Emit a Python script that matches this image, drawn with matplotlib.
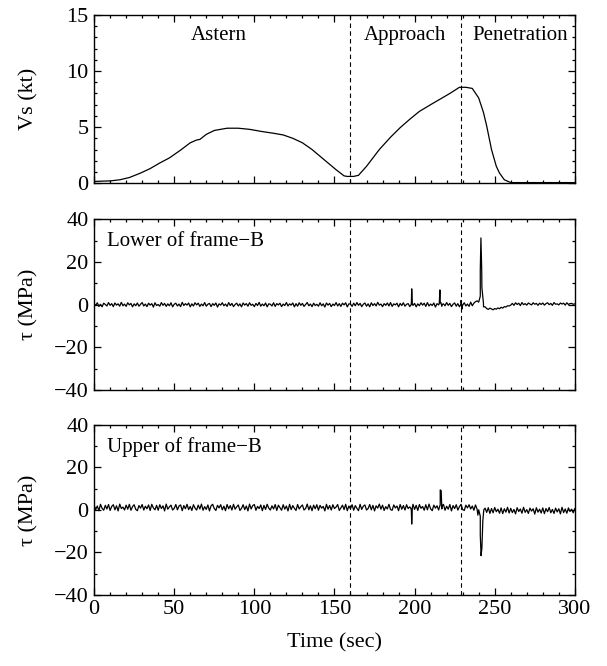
import numpy as np
import matplotlib
matplotlib.use("Agg")
import matplotlib.pyplot as plt
from matplotlib.ticker import MultipleLocator

plt.rcParams['font.family'] = ['Liberation Serif', 'DejaVu Serif']

# ship speed (top panel)
vs_time = [0, 5, 10, 16, 22, 29, 35, 41, 47, 54, 60, 64, 66, 70, 75, 83, 90, 97,
           105, 112, 118, 124, 130, 136, 141, 146, 151, 156, 158, 162, 165, 170,
           178, 185, 191, 197, 203, 210, 216, 222, 228, 232, 236, 240, 243, 245,
           248, 251, 253, 256, 260, 270, 300]
vs_kt = [0.15, 0.18, 0.2, 0.3, 0.5, 0.9, 1.3, 1.8, 2.25, 2.95, 3.6, 3.85, 3.9, 4.35,
         4.7, 4.9, 4.9, 4.8, 4.6, 4.45, 4.3, 4.0, 3.6, 3.0, 2.4, 1.8, 1.2, 0.65, 0.6,
         0.6, 0.7, 1.5, 3.0, 4.1, 4.95, 5.7, 6.4, 7.0, 7.5, 8.0, 8.55, 8.55, 8.45,
         7.6, 6.3, 5.1, 3.0, 1.5, 0.9, 0.3, 0.05, 0.05, 0.05]

# stress records, one sample per second (0..300 s)
tau_time = np.arange(0, 301, 1)
tau_lower = [
    0.6, -0.4, 0.9, -0.8, 0.2, -1.0, 0.7, 0.1, -0.6, 1.0, -0.3, 0.5, -0.9, 0.8, -0.2, 0.4, -0.7, 1.1, -0.5, 0.3,
    -0.8, 0.9, -0.1, 0.6, -1.0, 0.4, -0.5, 0.8, -0.7, 0.2, 1.0, -0.6, 0.3, -0.9, 0.7, -0.2, 0.5, -1.1, 0.9, -0.4,
    0.1, -0.7, 1.0, -0.3, 0.6, -0.8, 0.4, -0.5, 0.9, -1.0, 0.2, 0.7, -0.6, 0.3, -0.9, 1.1, -0.4, 0.5, -0.2, 0.8,
    -1.0, 0.4, -0.6, 0.9, -0.1, 0.7, -0.8, 0.3, -0.5, 1.0, -0.7, 0.2, 0.6, -0.9, 0.5, -0.3, 0.8, -1.1, 0.4, -0.2,
    0.9, -0.5, 0.3, -0.8, 1.0, -0.4, 0.6, -0.9, 0.1, 0.7, -0.6, 0.4, -1.0, 0.8, -0.2, 0.5, -0.7, 0.9, -0.3, 0.2,
    -0.9, 0.6, -0.4, 1.1, -0.7, 0.3, -0.5, 0.8, -1.0, 0.4, 0.2, -0.6, 0.9, -0.8, 0.5, -0.1, 0.7, -0.9, 0.3, -0.4,
    1.0, -0.6, 0.4, -0.2, 0.8, -1.0, 0.5, -0.7, 0.9, -0.3, 0.6, -0.8, 0.1, 1.0, -0.5, 0.3, -0.9, 0.7, -0.4, 0.2,
    -0.7, 0.9, -0.5, 0.4, -1.1, 0.8, -0.2, 0.6, -0.9, 0.3, -0.4, 1.0, -0.6, 0.5, -0.8, 0.7, -0.1, 0.9, -1.0, 0.4,
    0.3, -0.8, 0.7, -0.5, 1.0, -0.3, 0.6, -0.9, 0.2, 0.8, -0.7, 0.4, -1.0, 0.9, -0.4, 0.5, -0.6, 1.1, -0.2, 0.3,
    -0.9, 0.5, -0.3, 0.8, -0.6, 1.0, -0.8, 0.4, -0.1, 0.7, -1.0, 0.6, -0.4, 0.9, -0.7, 0.2, 0.5, -0.9, 0.8, -0.3,
    0.6, -1.0, 0.4, -0.5, 0.9, -0.2, 0.7, -0.8, 1.0, -0.6, 0.3, -0.4, 0.8, -1.1, 0.5, -0.1, 0.9, -0.7, 0.4, -0.5,
    1.0, -0.3, 0.6, -0.9, 0.2, 0.8, -0.7, 0.5, -1.0, 0.4, -0.2, 0.9, -0.6, 0.3, -0.8, 1.2, -0.5, 0.7, 1.4, 1.8,
    1.2, 4.0, 8.0, 0.5, -1.0, -1.8, -2.2, -1.6, -2.0, -2.4, -1.8, -2.1, -1.5, -1.9, -1.2, -1.6, -0.9, -1.1, -0.5, -0.6,
    -0.2, 0.6, -0.3, 0.9, 0.1, 0.7, -0.4, 1.0, 0.0, 0.5, -0.2, 0.8, 0.3, -0.1, 0.9, 0.2, 0.6, -0.3, 0.7, 0.1,
    0.8, -0.2, 0.5, 0.9, 0.0, 0.6, -0.3, 1.0, 0.2, 0.4, -0.1, 0.8, 0.3, 0.7, -0.2, 0.9, 0.1, 0.5, 0.6, 0.2,
    0.4]
tau_upper = [
    2.3, 0.1, 1.8, -0.4, 2.6, 0.7, -0.2, 2.1, 0.4, 2.5, -0.3, 1.6, 2.4, 0.0, 1.9, -0.5, 2.7, 0.6, 1.3, -0.1,
    2.2, 0.3, 2.6, -0.2, 1.5, 2.4, 0.2, -0.4, 2.0, 0.8, 2.5, -0.1, 1.7, 0.5, 2.3, -0.3, 2.6, 0.9, 0.0, 2.1,
    -0.2, 2.4, 0.6, 1.9, -0.5, 2.7, 0.3, 1.4, 2.2, -0.1, 0.7, 2.5, 0.0, 1.8, 2.3, -0.4, 2.0, 0.5, 2.6, 0.1,
    1.6, -0.3, 2.4, 0.8, -0.1, 2.2, 0.4, 2.7, -0.2, 1.5, 0.2, 2.3, -0.5, 1.9, 2.6, 0.6, -0.3, 2.1, 0.9, 2.4,
    0.0, 1.7, -0.4, 2.5, 0.5, 2.0, -0.1, 2.6, 0.3, 1.4, 2.3, -0.3, 0.7, 2.4, 0.1, 1.8, -0.5, 2.7, 0.4, 2.0,
    2.5, -0.2, 1.6, 0.6, 2.3, -0.4, 2.1, 0.2, 2.6, 0.8, -0.1, 1.9, 0.4, 2.5, -0.3, 2.2, 1.0, -0.2, 2.4, 0.3,
    1.8, -0.5, 2.6, 0.1, 2.0, 0.7, -0.3, 2.5, 0.4, 1.5, 2.3, -0.1, 0.6, 2.7, 0.0, 1.9, -0.4, 2.2, 0.5, 2.4,
    -0.2, 2.1, 0.8, 1.6, -0.5, 2.6, 0.3, 2.0, -0.1, 2.4, 0.6, 1.3, 2.5, -0.3, 0.9, 2.2, 0.1, 2.6, -0.4, 1.8,
    0.5, 2.4, -0.2, 2.0, 0.7, -0.4, 2.6, 0.2, 1.7, 2.3, -0.1, 0.6, 2.5, 0.0, 2.1, -0.5, 1.9, 0.8, 2.7, 0.3,
    2.2, -0.3, 1.5, 0.4, 2.6, 0.1, -0.2, 2.3, 0.9, 1.8, -0.4, 2.5, 0.3, 2.0, -0.1, 2.4, 0.6, 1.4, -0.5, 2.6,
    0.2, 2.1, -0.3, 2.5, 0.7, 1.6, -0.2, 2.4, 0.0, 2.7, 0.5, -0.4, 2.2, 0.8, 1.9, -0.1, 2.3, 0.4, 2.6, -0.2,
    1.7, 0.3, 2.5, -0.5, 2.0, 0.6, 2.4, -0.1, 1.5, 2.6, 0.1, -0.3, 2.2, 0.9, 2.4, 0.4, 1.8, -0.2, 2.3, 0.3,
    0.0, -3.0, -18.0, -1.5, 0.8, -1.2, 1.0, -1.7, 0.6, -1.4, 1.1, -0.9, 0.3, -1.6, 0.9, -1.8, 0.5, -1.1, 1.2, -1.5,
    0.7, -1.3, 0.2, -1.9, 1.0, -0.8, 0.4, -1.6, 1.2, -1.2, 0.1, -1.7, 0.8, -0.6, 0.5, -2.0, 1.0, -1.1, 0.3, -1.5,
    0.9, -1.8, 0.6, -0.9, 1.1, -1.4, 0.2, -1.7, 0.8, -1.0, 0.5, -1.9, 1.2, -1.3, 0.4, -1.6, 0.9, -0.8, 0.3, -1.4,
    0.6]

# impulsive events between the regular samples
lower_spike_t = [197.8, 198.2, 198.6, 215.4, 215.8, 216.4, 217.0, 229.0, 229.6,
                 240.6, 241.0, 241.4, 241.9, 242.4, 243.0]
lower_spike_v = [0.0, 7.4, 0.0, 0.5, 6.9, 1.0, 0.0, 2.0, -2.0,
                 3.0, 16.0, 31.2, 16.0, 5.0, -1.0]
upper_spike_t = [197.8, 198.2, 198.6, 215.6, 216.0, 216.6, 217.0, 239.5, 240.0,
                 241.0, 241.5, 242.0, 242.6, 243.2]
upper_spike_v = [0.5, -6.7, 1.0, 1.5, 9.4, 9.0, 1.5, -2.5, 0.0,
                 -12.0, -21.6, -18.0, -5.0, 0.0]

phase_bounds = [160, 229]
phase_names = ['Astern', 'Approach', 'Penetration']
phase_x = [78, 194, 266]


def merge(t, v, st, sv):
    tt = np.concatenate([t, st])
    vv = np.concatenate([v, sv])
    order = np.argsort(tt, kind='stable')
    return tt[order], vv[order]


def style(ax):
    ax.set_xlim(0, 300)
    ax.xaxis.set_major_locator(MultipleLocator(50))
    ax.xaxis.set_minor_locator(MultipleLocator(10))
    ax.tick_params(which='both', direction='in', top=True, right=True,
                   labelsize=16, width=0.9)
    ax.tick_params(which='major', length=5, pad=4)
    ax.tick_params(which='minor', length=2.5)
    for s in ax.spines.values():
        s.set_linewidth(1.0)
    for b in phase_bounds:
        ax.axvline(b, color='black', lw=0.8, ls=(0, (4, 3)))


fig = plt.figure(figsize=(6.07, 6.66), dpi=100)
ax1 = fig.add_axes([0.155, 0.725, 0.792, 0.2525])
ax2 = fig.add_axes([0.155, 0.414, 0.792, 0.257])
ax3 = fig.add_axes([0.155, 0.107, 0.792, 0.255])

ax1.plot(vs_time, vs_kt, color='black', lw=0.9)
ax1.set_ylim(0, 15)
ax1.yaxis.set_major_locator(MultipleLocator(5))
ax1.yaxis.set_minor_locator(MultipleLocator(1))
ax1.set_ylabel('Vs (kt)', fontsize=16)
for name, x in zip(phase_names, phase_x):
    ax1.text(x, 13.2, name, ha='center', va='center', fontsize=15)

t2, v2 = merge(tau_time, tau_lower, lower_spike_t, lower_spike_v)
ax2.plot(t2, v2, color='black', lw=0.9)
t3, v3 = merge(tau_time, tau_upper, upper_spike_t, upper_spike_v)
ax3.plot(t3, v3, color='black', lw=0.9)

for ax, label in [(ax2, 'Lower of frame\u2212B'), (ax3, 'Upper of frame\u2212B')]:
    ax.set_ylim(-40, 40)
    ax.yaxis.set_major_locator(MultipleLocator(20))
    ax.yaxis.set_minor_locator(MultipleLocator(10))
    ax.set_ylabel('\u03c4 (MPa)', fontsize=16)
    ax.text(0.027, 0.868, label, transform=ax.transAxes, ha='left',
            va='center', fontsize=15)

for ax in (ax1, ax2, ax3):
    style(ax)
    ax.yaxis.set_label_coords(-0.115, 0.5)
ax1.tick_params(labelbottom=False)
ax2.tick_params(labelbottom=False)
ax3.set_xlabel('Time (sec)', fontsize=16, labelpad=10)

fig.savefig('out.png', dpi=100)
